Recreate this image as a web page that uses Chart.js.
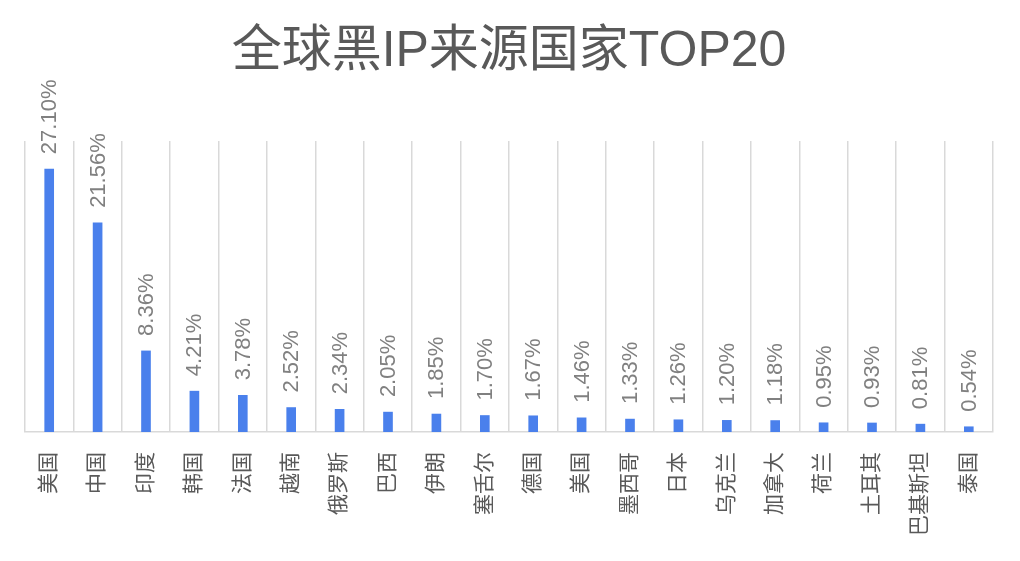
<!DOCTYPE html>
<html>
<head>
<meta charset="utf-8">
<script src="https://cdn.jsdelivr.net/npm/chart.js@4/dist/chart.umd.min.js"></script>
<style>
  html, body { margin: 0; padding: 0; background: #fff; }
  #wrap { width: 1020px; height: 561px; }
</style>
</head>
<body>
<div id="wrap"><canvas id="chart" width="1020" height="561"></canvas></div>
<script>
// Data
const countries = ['美国', '中国', '印度', '韩国', '法国', '越南', '俄罗斯', '巴西', '伊朗', '塞舌尔',
                   '德国', '美国', '墨西哥', '日本', '乌克兰', '加拿大', '荷兰', '土耳其', '巴基斯坦', '泰国'];
const shares = [27.10, 21.56, 8.36, 4.21, 3.78, 2.52, 2.34, 2.05, 1.85, 1.70,
                1.67, 1.46, 1.33, 1.26, 1.20, 1.18, 0.95, 0.93, 0.81, 0.54];

const FONT = '"Liberation Sans", "Noto Sans CJK SC", sans-serif';

// Rotated value labels above each bar
const valueLabels = {
    id: 'valueLabels',
    afterDatasetsDraw(chart) {
        const ctx = chart.ctx;
        const meta = chart.getDatasetMeta(0);
        ctx.save();
        ctx.font = '22px ' + FONT;
        ctx.fillStyle = '#808080';
        ctx.textAlign = 'left';
        ctx.textBaseline = 'middle';
        meta.data.forEach((bar, i) => {
            ctx.save();
            ctx.translate(bar.x, bar.y - 15);
            ctx.rotate(-Math.PI / 2);
            ctx.fillText(shares[i].toFixed(2) + '%', 0, 1);
            ctx.restore();
        });
        ctx.restore();
    }
};

new Chart(document.getElementById('chart'), {
    type: 'bar',
    data: {
        labels: countries,
        datasets: [{
            data: shares,
            backgroundColor: '#4a80ec',
            barThickness: 9
        }]
    },
    options: {
        responsive: false,
        animation: false,
        layout: { padding: { left: 25, right: 27, top: 0, bottom: 0 } },
        plugins: {
            legend: { display: false },
            tooltip: { enabled: false },
            title: {
                display: true,
                text: '全球黑IP来源国家TOP20',
                color: '#595959',
                font: { family: FONT, size: 50, weight: 'normal' },
                padding: { top: 22, bottom: 59 }
            }
        },
        scales: {
            x: {
                grid: { display: true, color: '#d9d9d9', lineWidth: 1.5, drawTicks: false, offset: true },
                border: { color: '#d9d9d9', width: 1.5 },
                ticks: {
                    color: '#595959',
                    font: { family: FONT, size: 21 },
                    minRotation: 90,
                    maxRotation: 90,
                    padding: 20,
                    autoSkip: false
                },
                afterFit(scale) { scale.height = 129; }
            },
            y: {
                display: false,
                min: 0,
                max: 30
            }
        }
    },
    plugins: [valueLabels]
});
</script>
</body>
</html>
